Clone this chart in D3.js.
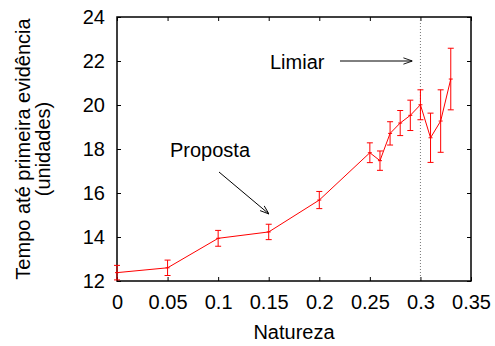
<!DOCTYPE html>
<html>
<head>
<meta charset="utf-8">
<script src="https://cdn.jsdelivr.net/npm/d3@7"></script>
<style>
  body { margin: 0; background: #fff; }
  text { font-family: "Liberation Sans", Arial, sans-serif; }
</style>
</head>
<body>
<div id="chart"></div>
<script>
// data
var natureza = [0, 0.05, 0.1, 0.15, 0.2, 0.25, 0.26, 0.27, 0.28, 0.29, 0.3, 0.31, 0.32, 0.33];
var tempo    = [12.38, 12.6, 13.94, 14.23, 15.68, 17.83, 17.47, 18.71, 19.18, 19.53, 20.01, 18.51, 19.27, 21.18];
var erro     = [0.33, 0.35, 0.36, 0.35, 0.39, 0.45, 0.44, 0.53, 0.57, 0.69, 0.68, 1.12, 1.42, 1.4];
var xTicks = [0, 0.05, 0.1, 0.15, 0.2, 0.25, 0.3, 0.35];
var yTicks = [12, 14, 16, 18, 20, 22, 24];
var limiar = 0.3;

var data = natureza.map(function(d, i) { return {x: d, y: tempo[i], e: erro[i]}; });

var W = 495, H = 346;
var margin = {top: 17, right: 24, bottom: 65, left: 117},
    width = W - margin.left - margin.right,
    height = H - margin.top - margin.bottom;

var svg = d3.select("#chart")
  .append("svg")
    .attr("width", W)
    .attr("height", H);

svg.append("defs").append("marker")
    .attr("id", "head")
    .attr("viewBox", "0 0 10 10")
    .attr("refX", 10).attr("refY", 5)
    .attr("markerWidth", 9).attr("markerHeight", 9)
    .attr("markerUnits", "userSpaceOnUse")
    .attr("orient", "auto")
  .append("path")
    .attr("d", "M0,1.5 L10,5 L0,8.5")
    .attr("fill", "none")
    .attr("stroke", "#000")
    .attr("stroke-width", 1);

var g = svg.append("g")
    .attr("transform", "translate(" + margin.left + "," + margin.top + ")");

var x = d3.scaleLinear().domain([0, 0.35]).range([0, width]);
var y = d3.scaleLinear().domain([12, 24]).range([height, 0]);

// axes with inward ticks, mirrored
g.append("g")
    .attr("transform", "translate(0," + height + ")")
    .call(d3.axisBottom(x).tickValues(xTicks).tickSizeInner(-4).tickSizeOuter(0).tickPadding(14)
      .tickFormat(function(d) { return d3.format("")(+d.toFixed(2)); }))
    .call(function(a) { a.select(".domain").remove(); });
g.append("g")
    .call(d3.axisTop(x).tickValues(xTicks).tickSizeInner(-4).tickSizeOuter(0).tickFormat(""))
    .call(function(a) { a.select(".domain").remove(); });
g.append("g")
    .call(d3.axisLeft(y).tickValues(yTicks).tickSizeInner(-4).tickSizeOuter(0).tickPadding(12))
    .call(function(a) { a.select(".domain").remove(); });
g.append("g")
    .attr("transform", "translate(" + width + ",0)")
    .call(d3.axisRight(y).tickValues(yTicks).tickSizeInner(-4).tickSizeOuter(0).tickFormat(""))
    .call(function(a) { a.select(".domain").remove(); });

g.selectAll(".tick text")
    .attr("font-size", 20)
    .attr("font-family", "Liberation Sans, Arial, sans-serif")
    .attr("fill", "#000");
g.selectAll(".tick line").attr("stroke", "#000");

// threshold line
g.append("line")
    .attr("x1", x(limiar)).attr("x2", x(limiar))
    .attr("y1", 0).attr("y2", height)
    .attr("stroke", "#777")
    .attr("stroke-width", 1)
    .attr("stroke-dasharray", "1,2");

// frame
g.append("rect")
    .attr("width", width).attr("height", height)
    .attr("fill", "none")
    .attr("stroke", "#000")
    .attr("stroke-width", 1.5);

// line
g.append("path")
    .datum(data)
    .attr("fill", "none")
    .attr("stroke", "#ff0000")
    .attr("stroke-width", 1)
    .attr("d", d3.line().x(function(d) { return x(d.x); }).y(function(d) { return y(d.y); }));

// error bars
var eb = g.selectAll(".eb").data(data).enter().append("g")
    .attr("stroke", "#ff0000").attr("stroke-width", 1);
eb.append("line")
    .attr("x1", function(d) { return x(d.x); }).attr("x2", function(d) { return x(d.x); })
    .attr("y1", function(d) { return y(Math.max(12, d.y - d.e)); })
    .attr("y2", function(d) { return y(d.y + d.e); });
eb.append("line")
    .attr("x1", function(d) { return x(d.x) - 3; }).attr("x2", function(d) { return x(d.x) + 3; })
    .attr("y1", function(d) { return y(d.y + d.e); }).attr("y2", function(d) { return y(d.y + d.e); });
eb.append("line")
    .attr("x1", function(d) { return x(d.x) - 3; }).attr("x2", function(d) { return x(d.x) + 3; })
    .attr("y1", function(d) { return y(Math.max(12, d.y - d.e)); })
    .attr("y2", function(d) { return y(Math.max(12, d.y - d.e)); });
eb.append("line")
    .attr("x1", function(d) { return x(d.x) - 2; }).attr("x2", function(d) { return x(d.x) + 2; })
    .attr("y1", function(d) { return y(d.y); }).attr("y2", function(d) { return y(d.y); });

// labels
svg.append("text")
    .attr("x", margin.left + width / 2).attr("y", 339)
    .attr("text-anchor", "middle")
    .attr("font-size", 20)
    .text("Natureza");

var yl = svg.append("text")
    .attr("transform", "translate(30,149) rotate(-90)")
    .attr("text-anchor", "middle")
    .attr("font-size", 20);
yl.append("tspan").attr("x", 0).attr("y", 0).text("Tempo até primeira evidência");
yl.append("tspan").attr("x", 0).attr("y", 20).text("(unidades)");

// annotations
svg.append("text")
    .attr("x", 270).attr("y", 69)
    .attr("font-size", 20)
    .text("Limiar");
svg.append("line")
    .attr("x1", 340).attr("y1", 61)
    .attr("x2", x(limiar) + margin.left - 8).attr("y2", 61)
    .attr("stroke", "#000").attr("stroke-width", 1)
    .attr("marker-end", "url(#head)");

svg.append("text")
    .attr("x", 170).attr("y", 157)
    .attr("font-size", 20)
    .text("Proposta");
svg.append("line")
    .attr("x1", 219).attr("y1", 172)
    .attr("x2", 269).attr("y2", 214)
    .attr("stroke", "#000").attr("stroke-width", 1)
    .attr("marker-end", "url(#head)");
</script>
</body>
</html>
